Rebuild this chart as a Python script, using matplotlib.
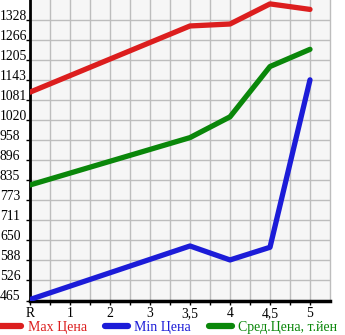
import numpy as np
import matplotlib
matplotlib.use("Agg")
import matplotlib.pyplot as plt

# Data
categories = ["R", "1", "2", "3", "3,5", "4", "4,5", "5"]
data_categories = ["R", "3,5", "4", "4,5", "5"]
max_price = [1107, 1311, 1317, 1379, 1362]
min_price = [468, 633, 590, 629, 1145]
avg_price = [821, 967, 1031, 1186, 1239]
y_tick_values = np.linspace(465, 1328, 15)
y_tick_labels = ["465", "526", "588", "650", "711", "773", "835", "896",
                 "958", "1020", "1081", "1143", "1205", "1266", "1328"]
series_names = ["Max Цена", "Min Цена", "Сред.Цена, т.йен"]
colors = ["#dc1e1e", "#1c1cd8", "#0a870a"]

plt.rcParams['font.family'] = ['Liberation Serif', 'DejaVu Serif']

fig = plt.figure(figsize=(3.45, 3.35), dpi=100)
ax = fig.add_axes([30/345, 34.5/335, 300/345, 300.5/335])
ax.set_facecolor("#f6f6f6")

xpos = [categories.index(c) for c in data_categories]
for vals, name, col in zip([max_price, min_price, avg_price], series_names, colors):
    ax.plot(xpos, vals, color=col, lw=3.8, solid_capstyle='round',
            solid_joinstyle='round', label=name, zorder=3)

ax.set_xlim(0, 7.5)
ax.set_ylim(465, 1391)
ax.set_xticks(range(len(categories)))
ax.set_xticklabels(categories)
ax.set_xticks(np.arange(0.5, 7.5, 1.0), minor=True)
ax.set_yticks(y_tick_values)
ax.set_yticklabels(y_tick_labels)

ax.grid(True, which='both', axis='x', color="#bdbdbd", lw=1)
ax.grid(True, which='major', axis='y', color="#bdbdbd", lw=1)
ax.set_axisbelow(True)

ax.spines["top"].set_visible(False)
ax.spines["right"].set_color("#bdbdbd")
ax.spines["right"].set_linewidth(1)
ax.spines["left"].set_linewidth(2)
ax.spines["bottom"].set_linewidth(2.5)

ax.tick_params(axis='both', which='both', direction='out', length=3, width=1,
               color='black', labelsize=9.8)
ax.tick_params(axis='y', pad=18.6)
ax.tick_params(axis='x', pad=1.5)
for lab in ax.get_yticklabels():
    lab.set_horizontalalignment('left')
    lab.set_verticalalignment('baseline')

leg = ax.legend(loc='upper left', bbox_to_anchor=(-0.003, 14/335), bbox_transform=fig.transFigure,
                ncol=3, frameon=False, fontsize=10, handlelength=1.6, handletextpad=0.5,
                columnspacing=1.3, borderaxespad=0, borderpad=0, labelcolor='linecolor')
for h in leg.get_lines():
    h.set_linewidth(4.5)
    h.set_solid_capstyle('round')

fig.savefig("out.png", dpi=100)
